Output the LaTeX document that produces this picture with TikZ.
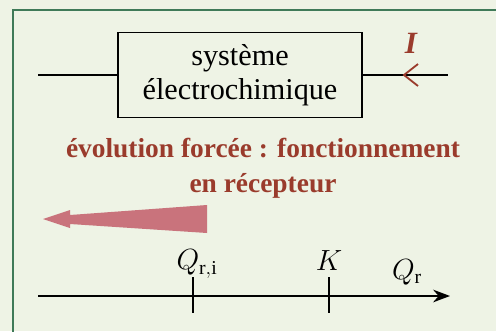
\documentclass[tikz,border=0pt]{standalone}
\usepackage{fontspec}
\setmainfont{Liberation Serif}
\usetikzlibrary{arrows.meta}
\definecolor{framegreen}{HTML}{3F7A58}
\definecolor{paper}{HTML}{EEF3E5}
\definecolor{brickred}{HTML}{9A3B2C}
\definecolor{pinkarrow}{HTML}{C9737C}
\tikzset{
  sysbox/.style={draw, line width=0.8pt, minimum width=6.1cm, minimum height=2.125cm,
                 align=center, inner sep=0pt, font=\fontsize{21.5}{24}\selectfont},
  wire/.style={line width=1.3pt},
  redtext/.style={text=brickred, align=center, font=\bfseries\fontsize{19.5}{25}\selectfont},
  axlabel/.style={inner sep=0pt, font=\fontsize{20}{22}\selectfont},
  tick/.style={line width=1.1pt},
}

\begin{document}
\begin{tikzpicture}[x=0.025cm, y=-0.025cm]
    \useasboundingbox (0,0) rectangle (496,331);
    \fill[paper] (0,0) rectangle (496,331);
    \draw[framegreen, line width=1.6pt] (13,10) rectangle (520,350);
    % circuit
    \node[sysbox] (sys) at (240,75) {système\\électrochimique};
    \coordinate (wl) at (38,75);
    \coordinate (wr) at (448,75);
    \draw[wire] (wl) -- (sys.west);
    \draw[wire] (sys.east) -- (wr);
    \coordinate (chev) at (404,75);
    \draw[brickred, line width=1.3pt] ([shift={(14,-11)}]chev) -- (chev) -- ([shift={(14,11)}]chev);
    \node[text=brickred, font=\bfseries\itshape\fontsize{22}{22}\selectfont] (cur) at (411,43) {I};
    % text
    \node[redtext] (evol) at (263,168) {évolution forcée : fonctionnement\\en récepteur};
    % wide arrow
    \fill[pinkarrow] (207,205) -- (70,215) -- (70,210) -- (43,219) -- (70,228) -- (70,224) -- (207,233) -- cycle;
    % axis
    \coordinate (ax0) at (38,296);
    \coordinate (ax1) at (450,296);
    \draw[wire, -{Stealth[length=12pt, width=9pt]}] (ax0) -- (ax1);
    \coordinate (qi) at (193,296);
    \coordinate (kk) at (329,296);
    \draw[tick] ([shift={(0,-19)}]qi) -- ([shift={(0,17)}]qi);
    \draw[tick] ([shift={(0,-19)}]kk) -- ([shift={(0,17)}]kk);
    \node[axlabel] (lqi) at (197,264) {$Q_{\mathrm{r,i}}$};
    \node[axlabel] (lk) at (329,261) {$K$};
    \node[axlabel] (lq) at (407,272) {$Q_{\mathrm{r}}$};
  \end{tikzpicture}
\end{document}
